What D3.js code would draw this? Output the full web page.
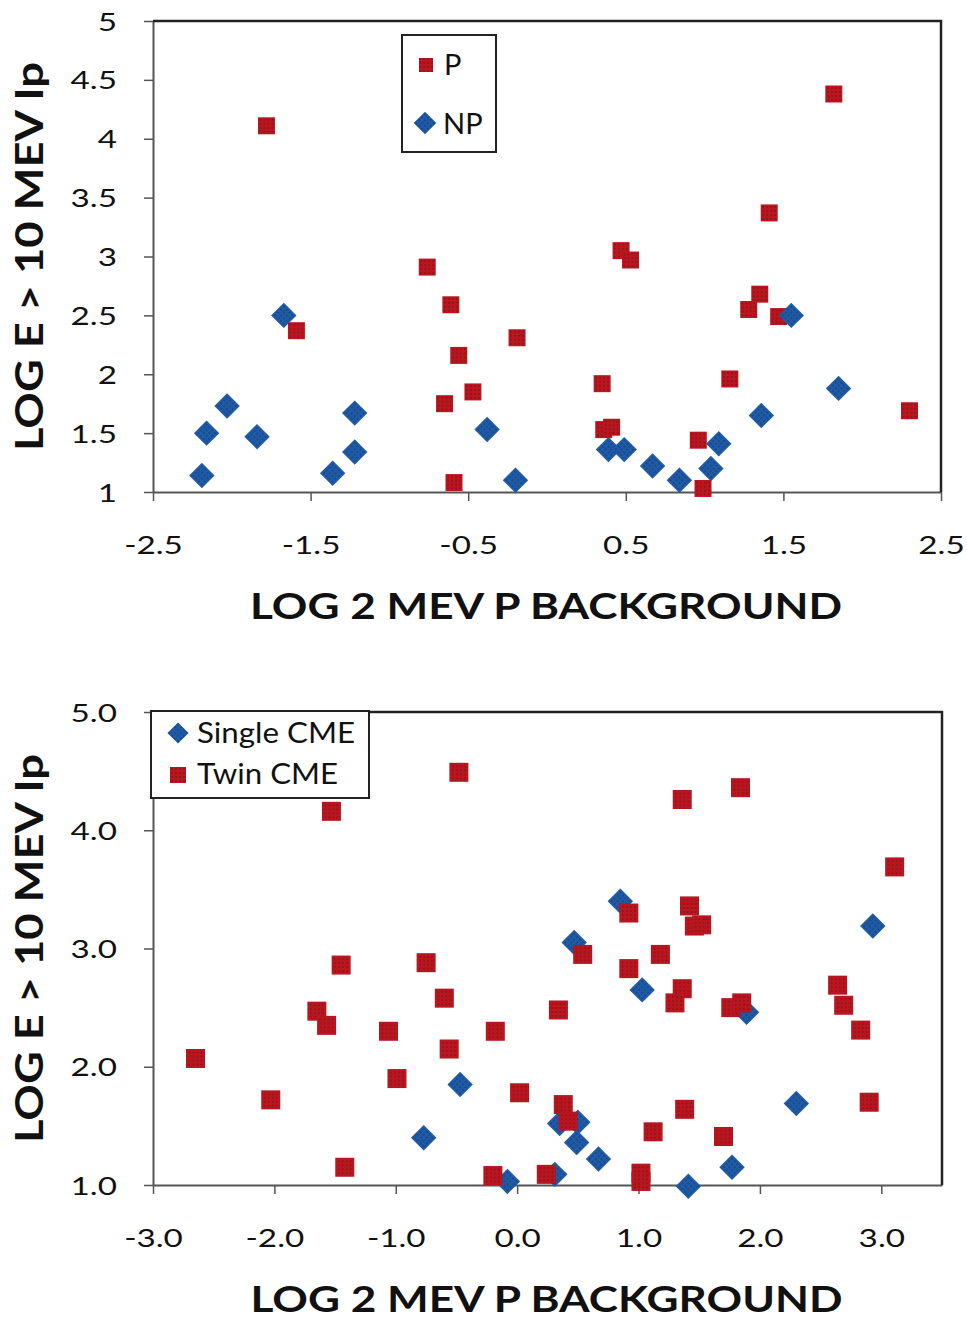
<!DOCTYPE html>
<html>
<head>
<meta charset="utf-8">
<script src="https://cdn.jsdelivr.net/npm/d3@7/dist/d3.min.js"></script>
<style>
  body { margin: 0; background: #fff; }
  svg text { font-family: Lato, "Open Sans", sans-serif; fill: #111; }
</style>
</head>
<body>
<div id="chart"></div>
<script>
// ---- top panel: P / NP ----
var pX  = [-1.78, -0.76, 1.82, 1.41, 0.47, 0.53, -0.61, -1.59, -0.19, -0.56, -0.47, -0.65, -0.59, 1.35, 1.28, 1.47, 0.35, 1.16, 2.30, 0.36, 0.41, 0.96, 0.99];
var pY  = [4.11, 2.91, 4.38, 3.37, 3.05, 2.97, 2.59, 2.37, 2.31, 2.16, 1.85, 1.75, 1.08, 2.68, 2.55, 2.49, 1.92, 1.96, 1.69, 1.53, 1.55, 1.44, 1.03];
var npX = [-1.67, -2.03, -2.16, -1.84, -2.19, -1.22, -1.22, -1.36, -0.38, -0.20, 1.55, 1.85, 1.36, 0.39, 0.49, 0.67, 0.84, 1.09, 1.04];
var npY = [2.50, 1.73, 1.50, 1.47, 1.14, 1.67, 1.34, 1.16, 1.53, 1.10, 2.50, 1.88, 1.65, 1.36, 1.36, 1.22, 1.10, 1.41, 1.20];
var topXTicks = [-2.5, -1.5, -0.5, 0.5, 1.5, 2.5];
var topYTicks = [1, 1.5, 2, 2.5, 3, 3.5, 4, 4.5, 5];

// ---- bottom panel: Single / Twin CME ----
var singleX = [0.85, 2.93, 0.47, 1.03, 1.89, 2.30, 0.35, 0.50, 0.49, 0.67, 1.77, 1.41, 0.31, -0.47, -0.77, -0.08];
var singleY = [3.40, 3.19, 3.05, 2.65, 2.46, 1.69, 1.52, 1.53, 1.36, 1.22, 1.15, 0.99, 1.09, 1.85, 1.40, 1.03];
var twinX = [-0.48, -1.53, 1.36, 1.84, 3.11, 0.92, 1.42, 1.46, 1.52, 0.54, 0.92, 1.18, 1.36, 1.30, 0.34, 1.76, 1.85, 2.64, 2.69, 2.83, 2.90, 0.38, 0.42, 1.38, 1.12, 1.70, 1.02, 1.02, 0.24, -1.45, -0.75, -0.60, -1.65, -1.57, -1.06, -0.18, -0.56, -2.65, -0.99, -2.03, 0.02, -1.42, -0.20];
var twinY = [4.49, 4.16, 4.26, 4.36, 3.69, 3.30, 3.36, 3.19, 3.20, 2.95, 2.83, 2.95, 2.66, 2.54, 2.48, 2.50, 2.54, 2.69, 2.52, 2.31, 1.70, 1.68, 1.54, 1.64, 1.45, 1.41, 1.10, 1.03, 1.09, 2.86, 2.88, 2.58, 2.47, 2.35, 2.30, 2.30, 2.15, 2.07, 1.90, 1.72, 1.78, 1.15, 1.08];
var botXTicks = [-3, -2, -1, 0, 1, 2, 3];
var botYTicks = [1, 2, 3, 4, 5];

var red = "#b9161f", blue = "#1f5aa6";

var svg = d3.select("#chart").append("svg")
  .attr("width", 967)
  .attr("height", 1320);

var defs = svg.append("defs");

// little dotted texture like the original markers
function dots(id, color) {
  var p = defs.append("pattern")
    .attr("id", id)
    .attr("width", 4).attr("height", 4)
    .attr("patternUnits", "userSpaceOnUse");
  p.append("rect").attr("width", 4).attr("height", 4).attr("fill", color);
  p.append("circle").attr("cx", 2).attr("cy", 2).attr("r", 0.7)
    .attr("fill", "#000").attr("opacity", 0.45);
}
dots("redDots", red);
dots("blueDots", blue);

function square(sel, side) {
  return sel.attr("d", d3.symbol(d3.symbolSquare, side * side)).attr("fill", "url(#redDots)");
}
function diamond(sel, side) {
  return sel.attr("d", d3.symbol(d3.symbolSquare, side * side)).attr("fill", "url(#blueDots)");
}

var SX = 1.33; // labels in the original are stretched sideways

function panel(o) {
  var x = d3.scaleLinear().domain(o.xDomain).range([o.left, o.right]);
  var y = d3.scaleLinear().domain(o.yDomain).range([o.bottom, o.top]);
  var g = svg.append("g");

  var xa = g.append("g")
    .attr("transform", "translate(0," + o.bottom + ")")
    .call(d3.axisBottom(x).tickValues(o.xTicks).tickSize(9).tickSizeOuter(0).tickFormat(o.xFmt));
  xa.selectAll("text")
    .attr("y", null).attr("dy", null)
    .attr("transform", "translate(0,62) scale(" + SX + ",1)")
    .style("font-size", "25px").attr("fill", "#111");

  var ya = g.append("g")
    .attr("transform", "translate(" + o.left + ",0)")
    .call(d3.axisLeft(y).tickValues(o.yTicks).tickSize(9).tickSizeOuter(0).tickFormat(o.yFmt));
  ya.selectAll("text")
    .attr("x", null).attr("dy", null)
    .attr("transform", "translate(-36,9) scale(" + SX + ",1)")
    .style("font-size", "25px").attr("fill", "#111");

  g.selectAll(".domain").attr("stroke", "#555").attr("stroke-width", 2);
  g.selectAll(".tick line").attr("stroke", "#555").attr("stroke-width", 1.5);

  // top and right frame
  g.append("path")
    .attr("d", "M" + o.left + "," + o.top + "H" + o.right + "V" + o.bottom)
    .attr("fill", "none").attr("stroke", "#222").attr("stroke-width", 2.5);

  // axis titles
  g.append("text")
    .attr("x", (o.left + o.right) / 2 - 1)
    .attr("y", o.bottom + 127)
    .attr("text-anchor", "middle")
    .attr("textLength", 592).attr("lengthAdjust", "spacingAndGlyphs")
    .style("font-size", "37px").style("font-weight", "bold")
    .text("LOG 2 MEV  P BACKGROUND");

  g.append("text")
    .attr("transform", "translate(43," + ((o.top + o.bottom) / 2) + ") rotate(-90)")
    .attr("text-anchor", "middle")
    .attr("textLength", 389).attr("lengthAdjust", "spacingAndGlyphs")
    .style("font-size", "38px").style("font-weight", "bold")
    .text("LOG E > 10 MEV Ip");

  return { g: g, x: x, y: y };
}

// ---------- top chart ----------
var topChart = panel({
  left: 153, right: 941, top: 21, bottom: 492,
  xDomain: [-2.5, 2.5], yDomain: [1, 5],
  xTicks: topXTicks, yTicks: topYTicks,
  xFmt: function(d) { return d.toFixed(1); },
  yFmt: function(d) { return String(d); }
});

topChart.g.selectAll(".p")
  .data(d3.zip(pX, pY))
  .enter().append("path")
  .attr("class", "p")
  .call(square, 17)
  .attr("transform", function(d) { return "translate(" + topChart.x(d[0]) + "," + topChart.y(d[1]) + ")"; });

topChart.g.selectAll(".np")
  .data(d3.zip(npX, npY))
  .enter().append("path")
  .attr("class", "np")
  .call(diamond, 18)
  .attr("transform", function(d) { return "translate(" + topChart.x(d[0]) + "," + topChart.y(d[1]) + ") rotate(45)"; });

// legend P / NP
var lg1 = svg.append("g");
lg1.append("rect").attr("x", 402).attr("y", 35).attr("width", 94).attr("height", 117)
  .attr("fill", "#fff").attr("stroke", "#222").attr("stroke-width", 2);
lg1.append("path").call(square, 14).attr("transform", "translate(426,65)");
lg1.append("path").call(diamond, 16).attr("transform", "translate(425,123) rotate(45)");
lg1.append("text").attr("x", 444).attr("y", 75).style("font-size", "29px").text("P");
lg1.append("text").attr("x", 443).attr("y", 134).style("font-size", "29px").text("NP");

// ---------- bottom chart ----------
var botChart = panel({
  left: 153, right: 942, top: 712, bottom: 1185,
  xDomain: [-3, 3.5], yDomain: [1, 5],
  xTicks: botXTicks, yTicks: botYTicks,
  xFmt: function(d) { return d.toFixed(1); },
  yFmt: function(d) { return d.toFixed(1); }
});

botChart.g.selectAll(".single")
  .data(d3.zip(singleX, singleY))
  .enter().append("path")
  .attr("class", "single")
  .call(diamond, 18)
  .attr("transform", function(d) { return "translate(" + botChart.x(d[0]) + "," + botChart.y(d[1]) + ") rotate(45)"; });

botChart.g.selectAll(".twin")
  .data(d3.zip(twinX, twinY))
  .enter().append("path")
  .attr("class", "twin")
  .call(square, 19)
  .attr("transform", function(d) { return "translate(" + botChart.x(d[0]) + "," + botChart.y(d[1]) + ")"; });

// legend Single / Twin
var lg2 = svg.append("g");
lg2.append("rect").attr("x", 151).attr("y", 711).attr("width", 218).attr("height", 87)
  .attr("fill", "#fff").attr("stroke", "#222").attr("stroke-width", 2);
lg2.append("path").call(diamond, 15).attr("transform", "translate(178,733) rotate(45)");
lg2.append("path").call(square, 16).attr("transform", "translate(178,775)");
lg2.append("text").attr("x", 197).attr("y", 743).style("font-size", "29px")
  .attr("textLength", 158).attr("lengthAdjust", "spacingAndGlyphs").text("Single CME");
lg2.append("text").attr("x", 197).attr("y", 784).style("font-size", "29px")
  .attr("textLength", 141).attr("lengthAdjust", "spacingAndGlyphs").text("Twin CME");
</script>
</body>
</html>
